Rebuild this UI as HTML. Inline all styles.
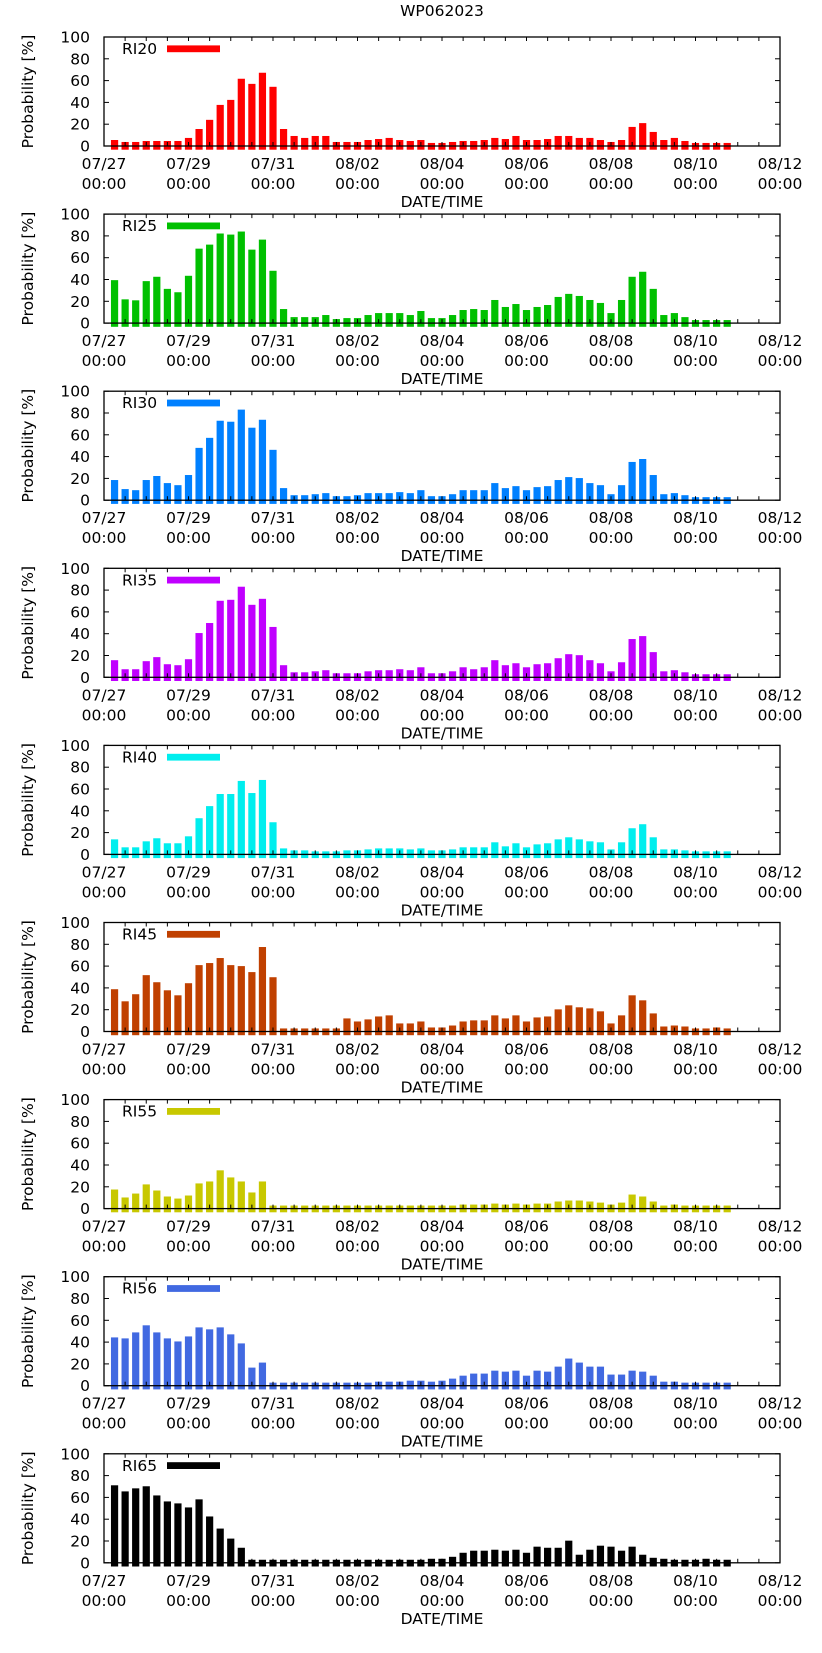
<!DOCTYPE html>
<html>
<head>
<meta charset="utf-8">
<style>
  html,body{margin:0;padding:0;background:#fff;}
  svg{display:block;}
  text{font-family:"DejaVu Sans","Liberation Sans",sans-serif;fill:#000;}
</style>
</head>
<body>
<svg id="chart" width="822" height="1653" viewBox="0 0 822 1653" xmlns="http://www.w3.org/2000/svg">
  <text x="442" y="16" text-anchor="middle" font-size="15.5">WP062023</text>
</svg>
<script>
const seriesNames = ["RI20","RI25","RI30","RI35","RI40","RI45","RI55","RI56","RI65"];
const seriesColors = ["#ff0000","#00c000","#0080ff","#c000ff","#00eeee","#c04000","#c8c800","#4169e1","#000000"];
const yTicks = [0,20,40,60,80,100];
const xTickDates = ["07/27","07/29","07/31","08/02","08/04","08/06","08/08","08/10","08/12"];
const xTickDays = [0,2,4,6,8,10,12,14,16];
const RI20 = [5.5,3.7,3.7,4.6,4.6,4.6,4.6,7.4,15.6,24,37.7,42.3,61.7,57,67.2,54.3,15.6,9.2,7.4,9.2,9.2,3.7,3.7,3.7,5.5,6.4,7.4,5.5,4.6,5.5,2.8,2.8,3.7,4.6,4.6,5.5,7.4,6.4,9.2,5.5,5.5,6.4,9.2,9.2,7.4,7.4,5.5,3.7,5.5,17.5,21,12.9,5.5,7.4,4.6,2.8,2.8,2.8,2.8];
const RI25 = [39.4,21.8,20.9,38.5,42.5,31.4,28.3,43.4,68.3,72,82.2,81.2,84,67.4,76.6,48,12.9,5.5,5.5,5.5,7.4,3.7,4.6,4.6,7.4,9.2,9.2,9.2,7.4,11.1,4.6,4.6,7.4,12,12.9,12,21.2,14.8,17.5,12,14.8,16.6,24,26.8,24.9,21.2,18.5,9.2,21.2,42.5,47.1,31.4,7.4,9.2,5.5,2.8,2.8,2.8,2.8];
const RI30 = [18.5,10.2,9.2,18.5,22.2,15.7,13.8,23.1,48,57.2,72.9,72,83.1,66.5,73.8,46.2,11.1,4.6,4.6,5.5,6.5,3.7,3.7,4.6,6.5,6.5,6.5,7.4,6.5,9.2,3.7,3.7,5.5,9.2,9.2,9.2,15.7,11.1,12.9,9.2,12,12.9,18.5,21.2,20.3,15.7,13.8,5.5,13.8,35.1,37.8,23.1,5.5,6.5,4.6,2.8,2.8,2.8,2.8];
const RI35 = [15.7,7.4,7.4,14.8,18.5,12,11.1,16.6,40.6,49.8,70.2,71.1,83.1,66.5,72,46.2,11.1,4.6,4.6,5.5,6.5,3.7,3.7,3.7,5.5,6.5,6.5,7.4,6.5,9.2,3.7,3.7,5.5,9.2,7.4,9.2,15.7,11.1,12.9,9.2,12,12.9,17.5,21.2,20.3,15.7,12.9,5.5,13.8,35.1,37.8,23.1,5.5,6.5,4.6,2.8,2.8,2.8,2.8];
const RI40 = [13.8,6.5,6.5,12,14.8,10.2,10.2,16.6,33.2,44.3,55.4,55.4,67.4,56.3,68.3,29.5,5.5,3.7,3.7,2.8,2.8,2.8,3.7,3.7,4.6,5.5,5.5,5.5,4.6,5.5,3.7,3.7,4.6,6.5,6.5,6.5,11.1,7.4,10.2,6.5,9.2,10.2,13.8,15.7,13.8,12,11.1,4.6,11.1,24,27.7,15.7,4.6,4.6,3.7,2.8,2.8,2.8,2.8];
const RI45 = [38.8,27.7,34.2,51.7,45.2,37.8,33.2,44.3,60.9,62.8,67.4,60.9,60,54.5,77.5,49.8,2.8,2.8,2.8,2.8,2.8,2.8,12,9.2,11.1,13.8,14.8,7.4,7.4,9.2,3.7,3.7,5.5,9.2,10.2,10.2,14.8,12,14.8,9.2,12.9,13.8,20.3,24,22.2,21.2,18.5,7.4,14.8,33.2,28.6,16.6,4.6,5.5,4.6,2.8,2.8,3.7,2.8];
const RI55 = [17.5,10.2,13.8,22.2,16.6,11.1,9.2,12,23.1,24.9,35.1,28.6,24.9,14.8,24.9,2.8,2.8,2.8,2.8,2.8,2.8,2.8,2.8,2.8,2.8,2.8,2.8,2.8,2.8,2.8,2.8,2.8,2.8,3.7,3.7,3.7,4.6,3.7,4.6,3.7,4.6,4.6,6.5,7.4,7.4,6.5,5.5,3.7,5.5,12.9,11.1,6.5,2.8,3.7,2.8,2.8,2.8,2.8,2.8];
const RI56 = [44.3,43.4,48.9,55.4,48.9,43.4,40.6,45.2,53.5,51.7,53.5,47.1,38.8,16.6,21.2,2.8,2.8,2.8,2.8,2.8,2.8,2.8,2.8,2.8,2.8,3.7,3.7,3.7,4.6,4.6,3.7,4.6,6.5,9.2,11.1,11.1,13.8,12.9,13.8,9.2,13.8,12.9,17.5,24.9,21.2,17.5,17.5,10.2,10.2,13.8,12.9,9.2,3.7,3.7,2.8,2.8,2.8,2.8,2.8];
const RI65 = [71.1,65.5,68.3,70.2,61.8,56.3,54.5,50.8,58.2,42.5,31.4,22.2,13.8,2.8,2.8,2.8,2.8,2.8,2.8,2.8,2.8,2.8,2.8,2.8,2.8,2.8,2.8,2.8,2.8,2.8,3.7,3.7,5.5,9.2,11.1,11.1,12,11.1,12,9.2,14.8,13.8,13.8,20.3,7.4,12,15.7,14.8,11.1,14.8,7.4,4.6,3.7,2.8,2.8,2.8,3.7,2.8,2.8];
const allSeries = [RI20,RI25,RI30,RI35,RI40,RI45,RI55,RI56,RI65];

const NS = "http://www.w3.org/2000/svg";
const svg = document.getElementById("chart");
const X0 = 104, X1 = 780, DAYS = 16;
const PH = 109, TOP0 = 37, PITCH = 177.1;
function xScale(day){ return X0 + (X1 - X0) * day / DAYS; }
function mk(tag, attrs, parent){
  const e = document.createElementNS(NS, tag);
  for (const k in attrs) e.setAttribute(k, attrs[k]);
  (parent || svg).appendChild(e);
  return e;
}

allSeries.forEach(function(vals, p){
  const top = TOP0 + PITCH * p, bot = top + PH;
  function yScale(v){ return bot - PH * v / 100; }
  const g = mk("g", {});
  
  

  // bars
  vals.forEach(function(v, i){
    const cx = xScale((i + 1) * 0.25);
    const y = yScale(v);
    const r = mk("rect", {x:(cx-3.6).toFixed(2), y:y.toFixed(2), width:7.2, height:(bot + 3.7 - y).toFixed(2), fill:seriesColors[p]}, g);
    
    
  });

  // x ticks every 12h
  for (let h = 1; h < 32; h++){
    const x = xScale(h * 0.5);
    mk("line", {x1:x, x2:x, y1:bot, y2:bot-4, stroke:"#000", "stroke-width":1}, g);
    mk("line", {x1:x, x2:x, y1:top, y2:top+4, stroke:"#000", "stroke-width":1}, g);
  }
  // y ticks + labels
  yTicks.forEach(function(t){
    const y = yScale(t);
    mk("line", {x1:X0, x2:X0+5, y1:y, y2:y, stroke:"#000", "stroke-width":1}, g);
    mk("line", {x1:X1, x2:X1-5, y1:y, y2:y, stroke:"#000", "stroke-width":1}, g);
    const tl = mk("text", {x:90, y:y+5.5, "text-anchor":"end", "font-size":15.5}, g);
    tl.textContent = t;
    
    
  });
  // frame
  const fr = mk("rect", {x:X0, y:top, width:X1-X0, height:PH, fill:"none", stroke:"#000", "stroke-width":1.3}, g);
  
  

  // x labels
  xTickDates.forEach(function(d, k){
    const x = xScale(xTickDays[k]);
    const t1 = mk("text", {x:x, y:bot+23, "text-anchor":"middle", "font-size":15.5}, g);
    t1.textContent = d;
    
    
    const t2 = mk("text", {x:x, y:bot+43, "text-anchor":"middle", "font-size":15.5}, g);
    t2.textContent = "00:00";
    
    
  });
  const xt = mk("text", {x:442, y:bot+61, "text-anchor":"middle", "font-size":15.5}, g);
  xt.textContent = "DATE/TIME";
  
  

  const cy = top + PH / 2;
  const yt = mk("text", {x:0, y:0, "text-anchor":"middle", "font-size":15.5, transform:"translate(33," + cy + ") rotate(-90)"}, g);
  yt.textContent = "Probability [%]";
  
  

  // legend
  const lt = mk("text", {x:122, y:top+17, "font-size":15.5}, g);
  lt.textContent = seriesNames[p];
  
  
  const ls = mk("rect", {x:167, y:top+8.4, width:53, height:6.8, fill:seriesColors[p]}, g);
  
  
});
</script>
</body>
</html>
